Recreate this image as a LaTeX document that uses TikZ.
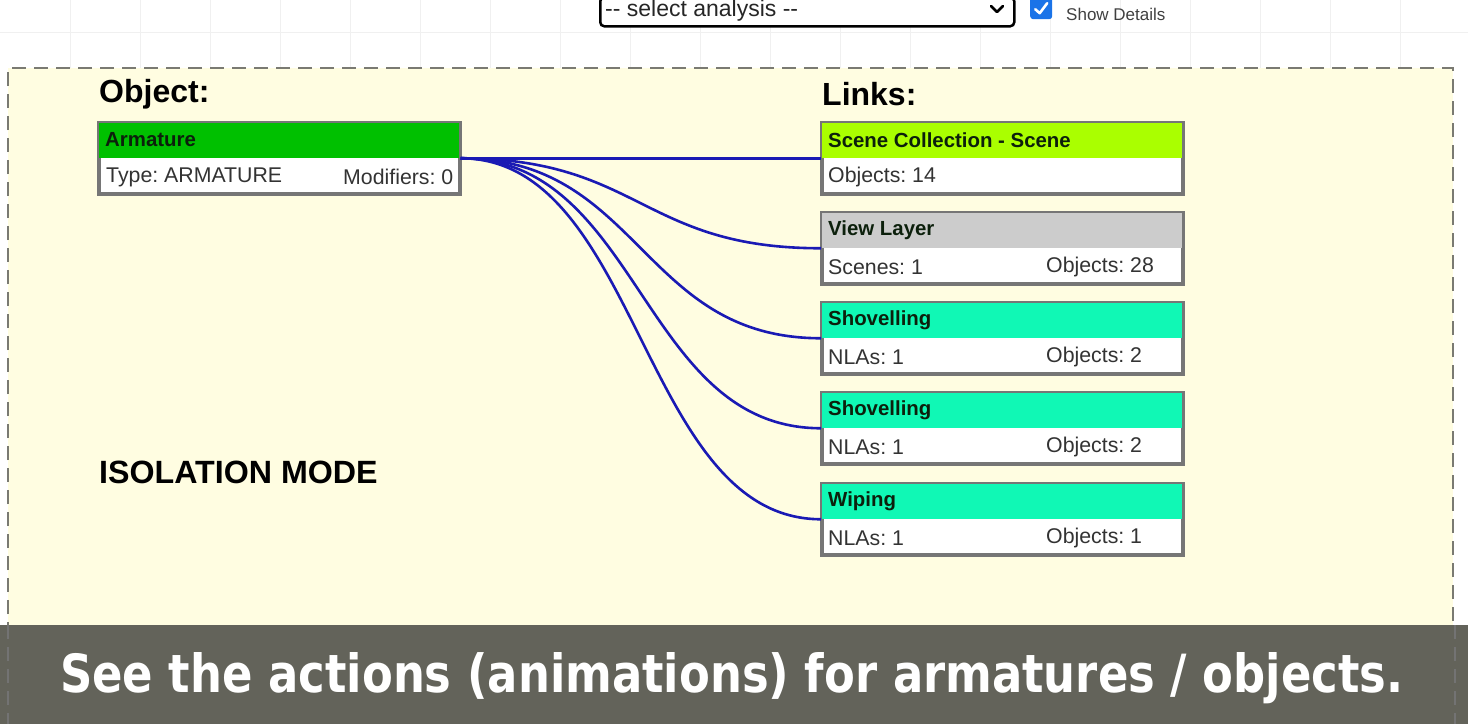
\documentclass[tikz,border=0pt]{standalone}
\usepackage{fontspec}
\setmainfont{Liberation Sans}
\newfontfamily\capfont{DejaVu Sans}
\frenchspacing
\definecolor{bgyellow}{HTML}{FFFDE1}
\definecolor{dashgray}{HTML}{7A7A72}
\definecolor{boxgray}{HTML}{767676}
\definecolor{armgreen}{HTML}{00C000}
\definecolor{lime}{HTML}{AAFF00}
\definecolor{viewgray}{HTML}{CCCCCC}
\definecolor{actgreen}{HTML}{10F8B5}
\definecolor{hdrtext}{HTML}{0C200C}
\definecolor{bodytext}{HTML}{333333}
\definecolor{linkblue}{HTML}{1A1AB4}
\definecolor{barcol}{HTML}{63635A}
\definecolor{gridcol}{HTML}{F0F0F0}
\definecolor{checkblue}{HTML}{1A73E8}
\newcommand\fs[1]{\fontsize{#1pt}{#1pt}\selectfont}
\newcommand\linkbox[8]{%
  \node[boxframe, anchor=north west] (#1) at (#2,#3) {};
  \fill[#4] ([xshift=1pt,yshift=-1pt]#1.north west) rectangle ([xshift=-1pt,yshift=-36pt]#1.north east);
  \draw[frame] (#1.north west) rectangle (#1.south east);
  \node[hdr] (#1-t) at ([xshift=7pt,yshift=-18pt]#1.north west) {#5};
  \node[bodytxt] (#1-l) at ([xshift=7pt,yshift=-55pt]#1.north west) {#6};
  \node[bodytxt] (#1-r) at ([xshift=#8pt,yshift=-55pt]#1.north west) {#7};
}
\begin{document}
\begin{tikzpicture}[x=1pt,y=-1pt,
  frame/.style={draw=boxgray, line width=2.5pt},
  boxframe/.style={frame, fill=white, minimum width=360pt, minimum height=70pt, inner sep=0pt},
  hdr/.style={font=\bfseries\fs{20.4}, text=hdrtext, anchor=west, inner sep=0pt},
  bodytxt/.style={font=\fs{21.3}, text=bodytext, anchor=west, inner sep=0pt},
  heading/.style={font=\bfseries\fs{32}, text=black, anchor=west, inner sep=0pt},
  link/.style={draw=linkblue, line width=2.6pt},
  dashedframe/.style={draw=dashgray, line width=2.2pt, dash pattern=on 14pt off 8pt}
]
\useasboundingbox (0,0) rectangle (1468,724);
% top background with faint grid
\fill[white] (0,0) rectangle (1468,724);
\foreach \gx in {70,140,...,1460} {\draw[gridcol, line width=1pt] (\gx,0) -- (\gx,68);}
\draw[gridcol, line width=1pt] (0,32) -- (1468,32);
% select box
\node[draw=black, line width=2.5pt, rounded corners=4pt, minimum width=414pt, minimum height=29pt, anchor=north west, inner sep=0pt, fill=white] (sel) at (599,-4) {};
\node[font=\fs{23}, anchor=west, inner sep=0pt, text=black!85] (seltxt) at ([xshift=6pt,yshift=1pt]sel.west) {-{}- select analysis -{}-};
\coordinate (chev) at (997,9);
\draw[line width=2.6pt, line cap=round, line join=round] ([xshift=-6pt,yshift=3pt]chev) -- ([yshift=-3pt]chev) -- ([xshift=6pt,yshift=3pt]chev);
% checkbox
\node[fill=checkblue, rounded corners=3pt, minimum size=22pt, inner sep=0pt, anchor=north west] (chk) at (1030,-3) {};
\draw[white, line width=2.6pt, line cap=round, line join=round] ([xshift=-6pt,yshift=-1pt]chk.center) -- ([xshift=-1.5pt,yshift=-5pt]chk.center) -- ([xshift=6pt,yshift=5pt]chk.center);
\node[font=\fs{17}, text=black!75, anchor=west, inner sep=0pt] (showd) at (1066,14) {Show Details};
% main dashed panel
\fill[bgyellow] (8,68) rectangle (1453,724);
\draw[dashedframe] (8,724) -- (8,68) -- (1453,68) -- (1453,724);
% headings
\node[heading] (objh) at (99,94) {Object:};
\node[heading] (linkh) at (822,94) {Links:};
\node[heading, font=\bfseries\fs{32.2}] (iso) at (99,472) {ISOLATION MODE};
% armature box
\node[boxframe, anchor=north west] (arm) at (98,122) {};
\fill[armgreen] ([xshift=1pt,yshift=-1pt]arm.north west) rectangle ([xshift=-1pt,yshift=-36pt]arm.north east);
\draw[frame] (arm.north west) rectangle (arm.south east);
\node[hdr] (arm-t) at ([xshift=7pt,yshift=-18pt]arm.north west) {Armature};
\node[bodytxt] (arm-l) at ([xshift=8pt,yshift=-55pt]arm.north west) {Type: ARMATURE};
\node[bodytxt, anchor=east] (arm-r) at ([xshift=-7pt,yshift=-55pt]arm.north east) {Modifiers: 0};
% link boxes
\linkbox{sc}{821}{122}{lime}{Scene Collection - Scene}{Objects: 14}{}{225}
\linkbox{vl}{821}{212}{viewgray}{View Layer}{Scenes: 1}{Objects: 28}{225}
\linkbox{sh1}{821}{302}{actgreen}{Shovelling}{NLAs: 1}{Objects: 2}{225}
\linkbox{sh2}{821}{392}{actgreen}{Shovelling}{NLAs: 1}{Objects: 2}{225}
\linkbox{wp}{821}{483}{actgreen}{Wiping}{NLAs: 1}{Objects: 1}{225}
% connectors
\foreach \t in {sc,vl,sh1,sh2,wp} {
  \draw[link] (arm.east) .. controls +(180,0) and +(-180,0) .. (\t.west);
}
% caption bar
\fill[barcol] (0,625) rectangle (1468,724);
\draw[dashedframe, draw=black!55] (8,625) -- (8,724);
\draw[dashedframe, draw=black!55] (1455,625) -- (1455,724);
\node[text=white, inner sep=0pt, anchor=west] (cap) at (60,678) {\resizebox{1343pt}{40pt}{\capfont\bfseries See the actions (animations) for armatures / objects.}};
\end{tikzpicture}
\end{document}
